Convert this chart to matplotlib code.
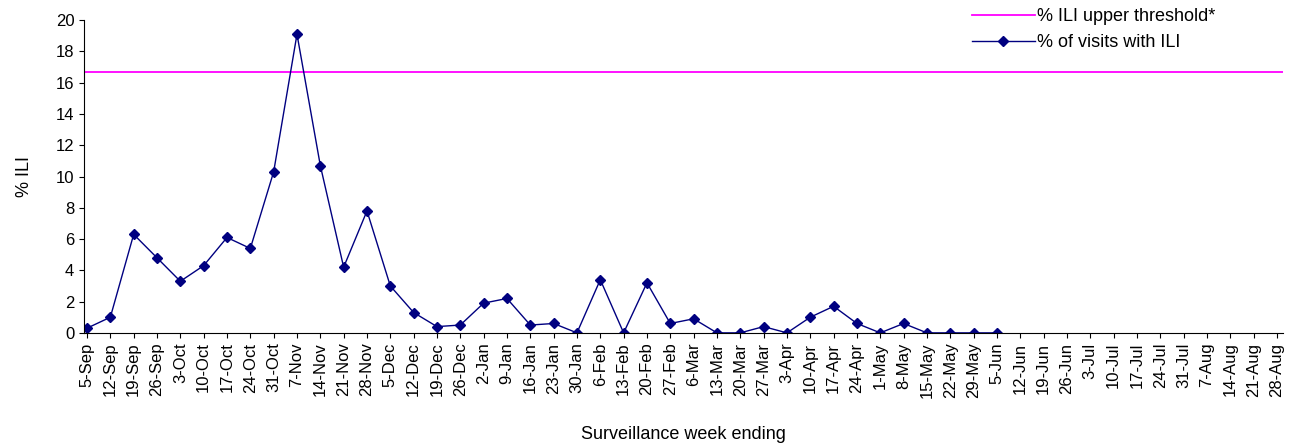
import matplotlib
matplotlib.use("Agg")
import matplotlib.pyplot as plt

weeks = ["5-Sep","12-Sep","19-Sep","26-Sep","3-Oct","10-Oct","17-Oct","24-Oct","31-Oct","7-Nov","14-Nov","21-Nov","28-Nov",
         "5-Dec","12-Dec","19-Dec","26-Dec","2-Jan","9-Jan","16-Jan","23-Jan","30-Jan","6-Feb","13-Feb","20-Feb","27-Feb",
         "6-Mar","13-Mar","20-Mar","27-Mar","3-Apr","10-Apr","17-Apr","24-Apr","1-May","8-May","15-May","22-May","29-May",
         "5-Jun","12-Jun","19-Jun","26-Jun","3-Jul","10-Jul","17-Jul","24-Jul","31-Jul","7-Aug","14-Aug","21-Aug","28-Aug"]
ili = [0.3,1.0,6.3,4.8,3.3,4.3,6.1,5.4,10.3,19.1,10.7,4.2,7.8,3.0,1.3,0.4,0.5,1.9,2.2,0.5,0.6,0,3.4,0,3.2,0.6,
       0.9,0,0,0.4,0,1.0,1.7,0.6,0,0.6,0,0,0,0]
threshold = 16.7

plt.rcParams['font.family'] = ['Liberation Sans', 'DejaVu Sans']
fig = plt.figure(figsize=(12.92, 4.48), dpi=100)
ax = fig.add_axes([0.065, 0.257, 0.928, 0.698])
ax.axhline(threshold, color='#ff00ff', lw=1.3, label='% ILI upper threshold*')
ax.plot(range(len(ili)), ili, color='#000080', lw=1, marker='D', ms=5, label='% of visits with ILI')
ax.set_xlim(-0.13, 51.26)
ax.set_ylim(0, 20)
ax.set_yticks(range(0, 21, 2))
ax.set_xticks(range(len(weeks)))
ax.set_xticklabels(weeks, rotation=90, fontsize=12)
ax.tick_params(axis='y', labelsize=12)
ax.set_ylabel('% ILI', fontsize=13, labelpad=16)
ax.set_xlabel('Surveillance week ending', fontsize=13, labelpad=20)
ax.spines['top'].set_visible(False)
ax.spines['right'].set_visible(False)
ax.legend(loc='upper left', bbox_to_anchor=(0.727, 1.09), frameon=False, fontsize=13,
          handlelength=3.5, handletextpad=0.1)
fig.savefig('out.png')
